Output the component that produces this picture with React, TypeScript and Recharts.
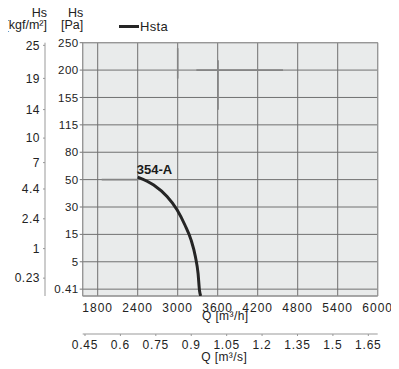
import React from "react";
import {
  LineChart,
  Line,
  XAxis,
  YAxis,
  CartesianGrid,
  ReferenceArea,
  ReferenceLine,
  Legend,
} from "recharts";

// ---- data ----
const Q_TICKS = [1800, 2400, 3000, 3600, 4200, 4800, 5400, 6000]; // m³/h
const QS_TICKS = [0.45, 0.6, 0.75, 0.9, 1.05, 1.2, 1.35, 1.5, 1.65]; // m³/s
const PA_TICKS = [0.41, 5, 15, 30, 50, 80, 115, 155, 200, 250]; // Pa
const KGF_TICKS = [0.23, 1, 2.4, 4.4, 7, 10, 14, 19, 25]; // kgf/m²
const CURVE_Q = [2400, 2640, 2840, 2990, 3110, 3200, 3265, 3305, 3328, 3345];
const CURVE_PA = [52.7, 46, 37.6, 28.5, 20, 13, 6.9, 3.1, 0.3, 0];
const CURVE_NAME = "Hsta";
const CURVE_LABEL = "354-A";
// darker (thickened) grid fragments visible in the original scan
const DECOR = [
  { q1: 1860, pa1: 50, q2: 2400, pa2: 50 },
  { q1: 3000, pa1: 240, q2: 3000, pa2: 186 },
  { q1: 3605, pa1: 218, q2: 3605, pa2: 137 },
  { q1: 3280, pa1: 200, q2: 4580, pa2: 200 },
];

const KGF_TO_PA = 9.80665;
const M3H_PER_M3S = 3600;
const Q_DOMAIN = [1575, 6000];
const QS_DOMAIN = [0.4403, 1.6897];
const BOTTOM_BAND = 0.25;
const Y_DOMAIN = [-BOTTOM_BAND, PA_TICKS.length - 1];

// the Pa axis is an evenly spaced, piecewise-linear scale
function paToIdx(pa: number): number {
  if (pa <= PA_TICKS[0]) return -BOTTOM_BAND + (pa / PA_TICKS[0]) * BOTTOM_BAND;
  for (let i = 1; i < PA_TICKS.length; i++) {
    if (pa <= PA_TICKS[i]) {
      return i - 1 + (pa - PA_TICKS[i - 1]) / (PA_TICKS[i] - PA_TICKS[i - 1]);
    }
  }
  return PA_TICKS.length - 1;
}

const curveData = CURVE_Q.map((q, i) => ({
  q,
  qs: q / M3H_PER_M3S,
  pa: CURVE_PA[i],
  idx: paToIdx(CURVE_PA[i]),
}));
const paPositions = PA_TICKS.map((_, i) => i);
const kgfPositions = KGF_TICKS.map((k) => paToIdx(k * KGF_TO_PA));

const FONT = "'Liberation Sans', Arial, Helvetica, sans-serif";
const TEXT = "#222";
const PA_ID = "a_pa";
const KGF_ID = "b_kgf";

const axisLabel = (text: string, dx: number, dy: number) => (props: any) => {
  const vb = props.viewBox || {};
  return (
    <text
      x={vb.x + vb.width / 2 + dx}
      y={vb.y + dy}
      textAnchor="middle"
      fontFamily={FONT}
      fontSize={12}
      letterSpacing={0.4}
      fill={TEXT}
    >
      {text}
    </text>
  );
};

const yHeader = (l1: string, l2: string, dx: number) => (props: any) => {
  const vb = props.viewBox || {};
  const x = vb.x + vb.width + dx;
  return (
    <g>
      <text x={x} y={vb.y - 25.4} textAnchor="end" fontFamily={FONT} fontSize={12.5} fill={TEXT}>
        {l1}
      </text>
      <text x={x} y={vb.y - 13.4} textAnchor="end" fontFamily={FONT} fontSize={12.5} fill={TEXT}>
        {l2}
      </text>
    </g>
  );
};

const renderLegend = (props: any) => (
  <div style={{ display: "flex", alignItems: "center", fontFamily: FONT, color: TEXT }}>
    {(props.payload || []).map((p: any) => (
      <React.Fragment key={p.value}>
        <span style={{ display: "inline-block", width: 20, height: 3, background: p.color }} />
        <span style={{ marginLeft: 1, fontSize: 13, letterSpacing: 0.3, lineHeight: "15px" }}>{p.value}</span>
      </React.Fragment>
    ))}
  </div>
);

export default function App() {
  return (
    <div style={{ width: 399, height: 369, marginLeft: -8, marginTop: -8 }}>
      <LineChart
        width={399}
        height={369}
        data={curveData}
        margin={{ top: 42.7, right: 21.3, bottom: 0, left: 8 }}
      >
        <CartesianGrid
          xAxisId="q"
          yAxisId={PA_ID}
          stroke="#707070"
          strokeWidth={1}
          fill="#e9ebeb"
          fillOpacity={1}
        />
        <XAxis
          xAxisId="q"
          dataKey="q"
          type="number"
          domain={Q_DOMAIN}
          ticks={Q_TICKS}
          interval={0}
          allowDataOverflow
          height={38}
          axisLine={false}
          tickLine={false}
          tickSize={0}
          tickMargin={7}
          tick={{ fontSize: 12, fill: TEXT, fontFamily: FONT, letterSpacing: 1 }}
          label={axisLabel("Q [m³/h]", -5, 24)}
        />
        <XAxis
          xAxisId="qs"
          dataKey="qs"
          type="number"
          domain={QS_DOMAIN}
          ticks={QS_TICKS}
          interval={0}
          allowDataOverflow
          height={35}
          axisLine={{ stroke: "#999" }}
          tickLine={{ stroke: "#999" }}
          tickSize={2}
          tickMargin={4}
          tick={{ fontSize: 12, fill: TEXT, fontFamily: FONT, letterSpacing: 0.8 }}
          tickFormatter={(v: number) => String(v)}
          label={axisLabel("Q [m³/s]", -6, 27)}
        />
        <YAxis
          yAxisId={PA_ID}
          type="number"
          domain={Y_DOMAIN}
          ticks={paPositions}
          interval={0}
          allowDataOverflow
          width={37.7}
          axisLine={false}
          tickLine={{ stroke: "#777" }}
          tickSize={3}
          tickMargin={1}
          tick={{ fontSize: 11.5, fill: TEXT, fontFamily: FONT, letterSpacing: 0.5 }}
          tickFormatter={(v: number) => String(PA_TICKS[Math.round(v)])}
          label={yHeader("Hs", "[Pa]", 0.5)}
        />
        <YAxis
          yAxisId={KGF_ID}
          type="number"
          domain={Y_DOMAIN}
          ticks={kgfPositions}
          interval={0}
          allowDataOverflow
          width={37}
          axisLine={{ stroke: "#999" }}
          tickLine={{ stroke: "#999" }}
          tickSize={2}
          tickMargin={3}
          tick={{ fontSize: 12, fill: TEXT, fontFamily: FONT, letterSpacing: 0.5 }}
          tickFormatter={(v: number) => {
            const i = kgfPositions.findIndex((p) => Math.abs(p - v) < 1e-6);
            return i >= 0 ? String(KGF_TICKS[i]) : "";
          }}
          label={yHeader("Hs", "[kgf/m²]", 2)}
        />
        <ReferenceArea
          xAxisId="q"
          yAxisId={PA_ID}
          x1={Q_DOMAIN[0]}
          x2={Q_DOMAIN[1]}
          y1={Y_DOMAIN[0]}
          y2={Y_DOMAIN[1]}
          fill="none"
          stroke="#9a9a9a"
          strokeWidth={1}
        />
        {DECOR.map((d, i) => (
          <ReferenceLine
            key={i}
            xAxisId="q"
            yAxisId={PA_ID}
            segment={[
              { x: d.q1, y: paToIdx(d.pa1) },
              { x: d.q2, y: paToIdx(d.pa2) },
            ]}
            stroke="#858585"
            strokeWidth={1.6}
          />
        ))}
        <Legend
          layout="horizontal"
          verticalAlign="middle"
          align="center"
          content={renderLegend}
          wrapperStyle={{ left: 119, top: 19, width: "auto" }}
        />
        <Line
          xAxisId="q"
          yAxisId={PA_ID}
          name={CURVE_NAME}
          dataKey="idx"
          type="monotone"
          stroke="#252525"
          strokeWidth={3}
          dot={false}
          activeDot={false}
          isAnimationActive={false}
          label={(p: any) =>
            p.index === 0 ? (
              <text
                key="curve-label"
                x={p.x - 1}
                y={p.y - 3.5}
                textAnchor="start"
                fontFamily={FONT}
                fontSize={13}
                fontWeight="bold"
                fill="#1a1a1a"
              >
                {CURVE_LABEL}
              </text>
            ) : (
              <g key={"e" + p.index} />
            )
          }
        />
      </LineChart>
    </div>
  );
}
